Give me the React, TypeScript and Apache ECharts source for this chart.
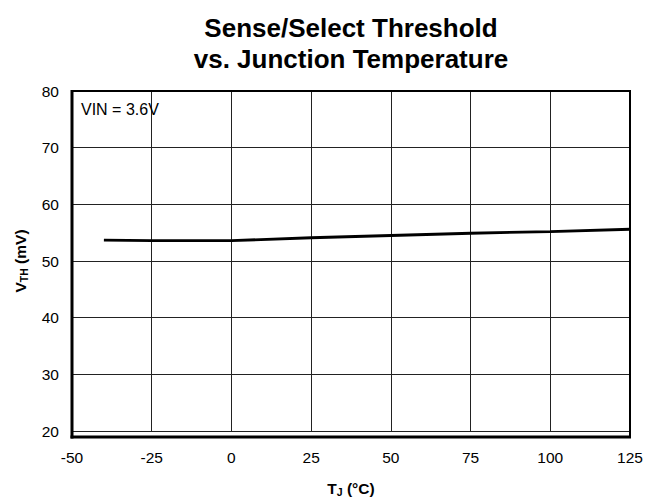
import React, { useEffect, useRef } from "react";
import * as echarts from "echarts";

const temperatures = [-40, -25, 0, 25, 50, 75, 100, 125];
const thresholdMV = [53.7, 53.6, 53.6, 54.1, 54.5, 54.9, 55.2, 55.6];
const xTicks = { min: -50, max: 125, interval: 25 };
const yTicks = { min: 20, max: 80, interval: 10 };
const titleLines = ["Sense/Select Threshold", "vs. Junction Temperature"];
const conditionLabel = "VIN = 3.6V";

export default function App() {
  const ref = useRef<HTMLDivElement>(null);
  useEffect(() => {
    if (!ref.current) return;
    document.body.style.margin = "0";
    const chart = echarts.init(ref.current, undefined, {
      renderer: "svg",
      width: 646,
      height: 502,
    });
    const font = "Liberation Sans, Arial, Helvetica, sans-serif";
    const nameRich = {
      b: { fontFamily: font, fontSize: 15.5, fontWeight: "bold", color: "#000", lineHeight: 18 },
      s: {
        fontFamily: font,
        fontSize: 10.5,
        fontWeight: "bold",
        color: "#000",
        lineHeight: 18,
        verticalAlign: "bottom",
        padding: [7, 0, 0, 0],
      },
    };
    chart.setOption({
      animation: false,
      backgroundColor: "#fff",
      textStyle: { fontFamily: font },
      title: {
        text: titleLines.join("\n"),
        left: 346,
        top: 8,
        textAlign: "center",
        textStyle: {
          fontFamily: font,
          fontSize: 26,
          fontWeight: "bold",
          color: "#000",
          lineHeight: 30.5,
        },
      },
      grid: { left: 72, top: 91, width: 558, height: 346, containLabel: false },
      xAxis: {
        type: "value",
        min: xTicks.min,
        max: xTicks.max,
        interval: xTicks.interval,
        name: "{b|T}{s|J}{b| (°C)}",
        nameLocation: "middle",
        nameGap: 48,
        nameTextStyle: { rich: nameRich },
        axisLine: { show: false },
        axisTick: { show: false },
        axisLabel: { fontFamily: font, fontSize: 15.5, color: "#000", margin: 18 },
        splitLine: { show: true, lineStyle: { color: "#222", width: 1 } },
      },
      yAxis: {
        type: "value",
        min: yTicks.min,
        max: yTicks.max,
        interval: yTicks.interval,
        name: "{b|V}{s|TH}{b| (mV)}",
        nameLocation: "middle",
        nameRotate: 90,
        nameGap: 43,
        nameTextStyle: { rich: nameRich },
        axisLine: { show: false },
        axisTick: { show: false },
        axisLabel: { fontFamily: font, fontSize: 15.5, color: "#000", margin: 13 },
        splitLine: { show: true, lineStyle: { color: "#222", width: 1 } },
      },
      graphic: [
        {
          type: "rect",
          shape: { x: 72, y: 91, width: 558, height: 346 },
          style: { fill: "none", stroke: "#000", lineWidth: 2 },
          silent: true,
          z: 10,
        },
        {
          type: "line",
          shape: { x1: 72, y1: 90, x2: 72, y2: 438.5 },
          style: { stroke: "#000", lineWidth: 3 },
          silent: true,
          z: 11,
        },
        {
          type: "line",
          shape: { x1: 70.5, y1: 437, x2: 631, y2: 437 },
          style: { stroke: "#000", lineWidth: 3 },
          silent: true,
          z: 11,
        },
        {
          type: "text",
          x: 81,
          y: 109,
          style: {
            text: conditionLabel,
            fontFamily: font,
            fontSize: 16,
            fill: "#000",
            verticalAlign: "middle",
          },
          z: 11,
        },
      ],
      series: [
        {
          type: "line",
          data: temperatures.map((t, i) => [t, thresholdMV[i]]),
          symbol: "none",
          smooth: false,
          lineStyle: { color: "#000", width: 2.8 },
          z: 5,
        },
      ],
    });
    return () => chart.dispose();
  }, []);
  return <div ref={ref} style={{ width: 646, height: 502 }} />;
}
